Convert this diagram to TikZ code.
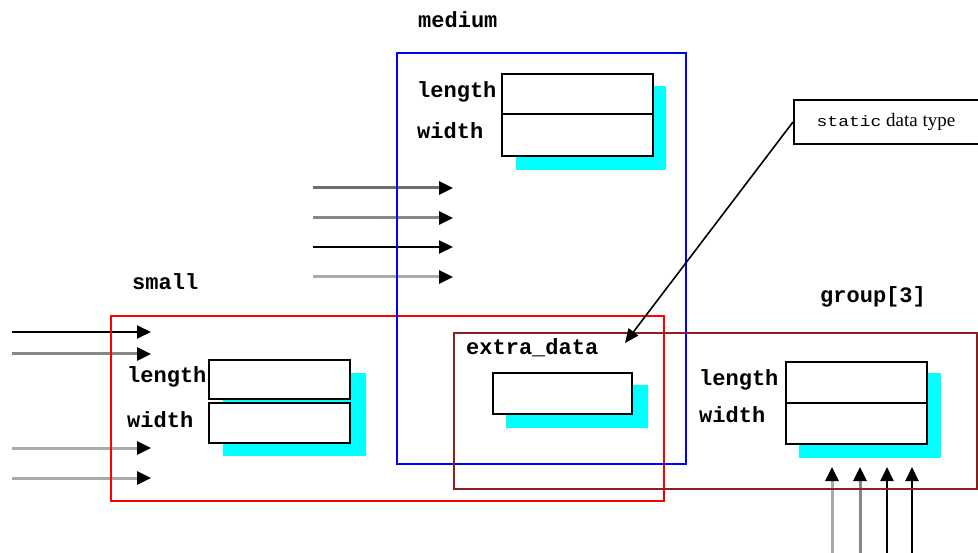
\documentclass[tikz,border=0pt]{standalone}
\usepackage{fontspec}
\setmainfont{Liberation Serif}
\newfontfamily\codefont{Liberation Mono}[BoldFont={* Bold}]
\usetikzlibrary{arrows.meta}
\definecolor{cyanshadow}{RGB}{0,255,255}
\definecolor{boxblue}{RGB}{0,0,255}
\definecolor{boxred}{RGB}{255,0,0}
\definecolor{boxdarkred}{RGB}{140,30,30}
\definecolor{gA}{RGB}{110,110,110}
\definecolor{gB}{RGB}{135,135,135}
\definecolor{gC}{RGB}{170,170,170}
\tikzset{
  lbl/.style={anchor=base west, inner sep=0pt, font=\codefont\bfseries\fontsize{22}{24}\selectfont},
  shadow/.style={fill=cyanshadow, draw=none, anchor=north west, inner sep=0pt},
  field/.style={draw=black, fill=white, line width=2pt, anchor=north west, inner sep=0pt},
  container/.style={line width=2pt, anchor=north west, inner sep=0pt},
  feed/.style={line width=3pt, -{Triangle[length=14pt,width=13pt,black]}},
  blackfeed/.style={feed, black, line width=2pt},
}
\begin{document}
\begin{tikzpicture}[x=1pt,y=-1pt]
\useasboundingbox (0,0) rectangle (978,553);
% feeding arrows
\coordinate (l1s) at (12,332); \coordinate (l1e) at (151,332);
\coordinate (l2s) at (12,354); \coordinate (l2e) at (151,354);
\coordinate (l3s) at (12,448); \coordinate (l3e) at (151,448);
\coordinate (l4s) at (12,478); \coordinate (l4e) at (151,478);
\draw[blackfeed] (l1s) -- (l1e);
\draw[feed, gB] (l2s) -- (l2e);
\draw[feed, gC] (l3s) -- (l3e);
\draw[feed, gC] (l4s) -- (l4e);
\coordinate (m1s) at (313,188); \coordinate (m1e) at (453,188);
\coordinate (m2s) at (313,218); \coordinate (m2e) at (453,218);
\coordinate (m3s) at (313,247); \coordinate (m3e) at (453,247);
\coordinate (m4s) at (313,277); \coordinate (m4e) at (453,277);
\draw[feed, gA] (m1s) -- (m1e);
\draw[feed, gB] (m2s) -- (m2e);
\draw[blackfeed] (m3s) -- (m3e);
\draw[feed, gC] (m4s) -- (m4e);
\coordinate (u1s) at (832,556); \coordinate (u1e) at (832,467);
\coordinate (u2s) at (860,556); \coordinate (u2e) at (860,467);
\coordinate (u3s) at (887,556); \coordinate (u3e) at (887,467);
\coordinate (u4s) at (912,556); \coordinate (u4e) at (912,467);
\draw[feed, gC] (u1s) -- (u1e);
\draw[feed, gB] (u2s) -- (u2e);
\draw[blackfeed] (u3s) -- (u3e);
\draw[blackfeed] (u4s) -- (u4e);
% containers
\node[container, draw=boxred, minimum width=553pt, minimum height=185pt] (small) at (110,315) {};
\node[container, draw=boxblue, minimum width=289pt, minimum height=411pt] (medium) at (396,52) {};
\node[container, draw=boxdarkred, minimum width=523pt, minimum height=156pt] (group) at (453,332) {};
% medium fields
\node[shadow, minimum width=150pt, minimum height=84pt] (mshadow) at (516,86) {};
\node[field, minimum width=151pt, minimum height=40pt] (mlen) at (501,73) {};
\node[field, minimum width=151pt, minimum height=42pt] (mwid) at (501,113) {};
% small fields
\node[shadow, minimum width=143pt, minimum height=83pt] (sshadow) at (223,373) {};
\node[field, minimum width=141pt, minimum height=39pt] (slen) at (208,359) {};
\node[field, minimum width=141pt, minimum height=40pt] (swid) at (208,402) {};
% extra data
\node[shadow, minimum width=142pt, minimum height=43pt] (eshadow) at (506,385) {};
\node[field, minimum width=139pt, minimum height=41pt] (ebox) at (492,372) {};
% group fields
\node[shadow, minimum width=142pt, minimum height=85pt] (gshadow) at (799,373) {};
\node[field, minimum width=141pt, minimum height=41pt] (glen) at (785,361) {};
\node[field, minimum width=141pt, minimum height=41pt] (gwid) at (785,402) {};
% labels
\node[lbl] (tmedium) at (418,28) {medium};
\node[lbl] (tsmall) at (132,290) {small};
\node[lbl] (tgroup) at (820,303) {group[3]};
\node[lbl] (tmlen) at (417,98) {length};
\node[lbl] (tmwid) at (417,139) {width};
\node[lbl] (tslen) at (127,383) {length};
\node[lbl] (tswid) at (127,428) {width};
\node[lbl] (textra) at (466,355) {extra\_data};
\node[lbl] (tglen) at (699,386) {length};
\node[lbl] (tgwid) at (699,423) {width};
% static data type note
\node[draw=black, line width=2pt, fill=white, anchor=north west, inner sep=0pt, minimum width=190pt, minimum height=44pt] (static) at (793,99) {};
\node[anchor=base, inner sep=0pt] (tstatic) at (886,127) {\scalebox{1.2}[1]{\codefont\fontsize{15}{18}\selectfont static}\fontsize{19}{22}\selectfont{} data type};
\coordinate (etip) at (625,343);
\draw[line width=1.6pt, -{Triangle[length=14pt,width=12pt]}] (static.west) -- (etip);
\end{tikzpicture}
\end{document}
